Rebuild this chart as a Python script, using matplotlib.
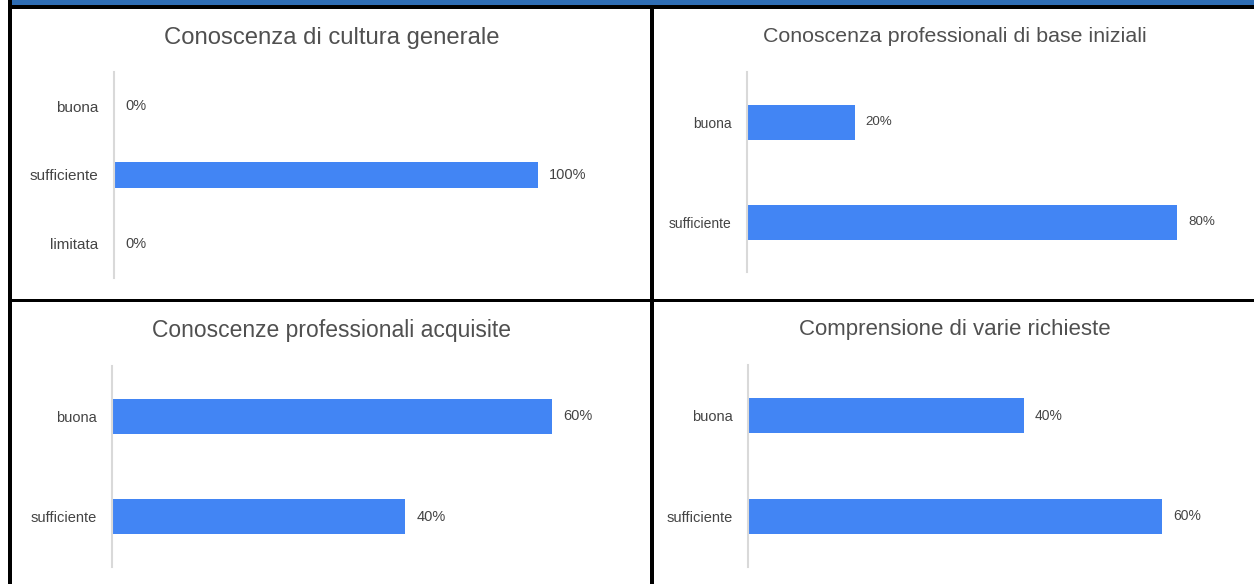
import matplotlib
matplotlib.use("Agg")
import matplotlib.pyplot as plt
from matplotlib.patches import Rectangle

# ---------------- data ----------------
titles = [
    "Conoscenza di cultura generale",
    "Conoscenza professionali di base iniziali",
    "Conoscenze professionali acquisite",
    "Comprensione di varie richieste",
]
cats1 = ["buona", "sufficiente", "limitata"]
vals1 = [0, 100, 0]
cats2 = ["buona", "sufficiente"]
vals2 = [20, 80]
cats3 = ["buona", "sufficiente"]
vals3 = [60, 40]
cats4 = ["buona", "sufficiente"]
vals4 = [40, 60]

# ---------------- layout ----------------
W, H = 1254, 584
DPI = 100
fig = plt.figure(figsize=(W / DPI, H / DPI), dpi=DPI)
fig.patch.set_facecolor("white")

BAR = "#4285F4"
TXT = "#444444"
TITLE = "#505050"
AXL = "#d9d9d9"
FONT = "Liberation Sans"


def px_axes(x0, y0, x1, y1):
    return fig.add_axes([x0 / W, 1 - y1 / H, (x1 - x0) / W, (y1 - y0) / H])


# panel specs: axes rect px, xmax, bar height, cat font, val font, title (x,y,size)
panels = [
    dict(rect=(114, 72, 640, 278), xmax=100 * (640 - 114) / 424, bh=0.37,
         cfs=11, vfs=10.5, title=(332, 38, 17.2), cats=cats1, vals=vals1, t=titles[0]),
    dict(rect=(747, 72, 1245, 272), xmax=80 * (1245 - 747) / 430, bh=0.35,
         cfs=10, vfs=9.6, title=(955, 36, 15.4), cats=cats2, vals=vals2, t=titles[1]),
    dict(rect=(112, 366, 640, 567), xmax=60 * (640 - 112) / 440, bh=0.35,
         cfs=10.5, vfs=10.5, title=(332, 331, 16.5), cats=cats3, vals=vals3, t=titles[2]),
    dict(rect=(748, 365, 1245, 567), xmax=60 * (1245 - 748) / 414, bh=0.35,
         cfs=10.5, vfs=10, title=(955, 330, 16.0), cats=cats4, vals=vals4, t=titles[3]),
]

for p in panels:
    x0, y0, x1, y1 = p["rect"]
    ax = px_axes(x0, y0, x1, y1)
    n = len(p["cats"])
    pos = list(range(n))
    ax.barh(pos, p["vals"], height=p["bh"], color=BAR, zorder=2)
    ax.set_xlim(0, p["xmax"])
    ax.set_ylim(n - 0.5, -0.5)
    for s in ["top", "right", "bottom"]:
        ax.spines[s].set_visible(False)
    ax.spines["left"].set_color(AXL)
    ax.spines["left"].set_linewidth(1.5)
    ax.set_xticks([])
    ax.set_yticks(pos)
    ax.set_yticklabels(p["cats"], fontsize=p["cfs"], color=TXT, family=FONT)
    ax.tick_params(axis="y", length=0, pad=11)
    ax.patch.set_alpha(0)
    px_per_unit = (x1 - x0) / p["xmax"]
    for i, v in enumerate(p["vals"]):
        ax.text(v + 11 / px_per_unit, i, f"{v}%", va="center", ha="left",
                fontsize=p["vfs"], color=TXT, family=FONT)
    tx, ty, ts = p["title"]
    fig.text(tx / W, 1 - ty / H, p["t"], ha="center", va="center",
             fontsize=ts, color=TITLE, family=FONT)

# ---------------- frame / borders ----------------
def rect_px(x0, y0, x1, y1, color):
    fig.patches.append(Rectangle((x0 / W, 1 - y1 / H), (x1 - x0) / W, (y1 - y0) / H,
                                 transform=fig.transFigure, color=color, lw=0,
                                 zorder=10))

rect_px(12, 0, W, 4.7, "#2e6db4")     # blue band
rect_px(8, 4.7, W, 8.5, "black")      # top line
rect_px(8, 0, 12, H, "black")         # left line
rect_px(650, 4.7, 653.5, H, "black")  # middle vertical
rect_px(12, 298.5, W, 302, "black")   # middle horizontal

fig.savefig("out.png", dpi=DPI, facecolor="white")
